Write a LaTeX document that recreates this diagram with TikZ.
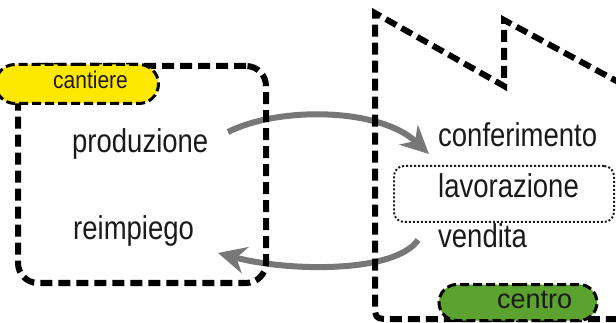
\documentclass[tikz,border=0pt]{standalone}
\usepackage{fontspec}
\setmainfont{Liberation Sans}
\usetikzlibrary{arrows.meta,shapes.misc}
\definecolor{arrowgray}{HTML}{777777}
\definecolor{pillyellow}{HTML}{FFE800}
\definecolor{pillgreen}{HTML}{5BA22E}
\definecolor{txt}{HTML}{1A1A1A}
\begin{document}
\begin{tikzpicture}[x=1pt,y=-1pt,
  outline/.style={draw=black, line width=6pt, dash pattern=on 12pt off 6pt},
  pill/.style={rounded rectangle, draw=black, line width=3pt, dash pattern=on 9pt off 4pt, inner sep=0pt},
  lbl/.style={anchor=base west, text=txt, inner sep=0pt, font=\fontsize{27.5}{30}\selectfont},
  small/.style={anchor=base west, text=txt, inner sep=0pt},
  flow/.style={draw=arrowgray, line width=6pt, -{Stealth[length=28pt,width=27pt,inset=9pt]}}]
\useasboundingbox (0,0) rectangle (616,323);
% arrows (under the outlines)
\coordinate (a1s) at (228,132);
\coordinate (a1e) at (429,154);
\coordinate (a2s) at (418,240);
\coordinate (a2e) at (218,253);
\draw[flow] (a1s) .. controls (280,106) and (380,108) .. (a1e);
\draw[flow] (a2s) .. controls (395,273) and (290,272) .. (a2e);
% factory outline
\draw[outline] (622,84) -- (504,20) -- (504,86) -- (375,13) -- (375,302) .. controls (375,319) .. (392,319) -- (622,319);
% building site box
\node[outline, rounded corners=20pt, minimum width=248pt, minimum height=217pt, inner sep=0pt, anchor=north west] (site) at (15,63) {};
% processing box
\node[draw=txt, line width=2pt, dash pattern=on 2pt off 2pt, rounded corners=10pt, minimum width=220pt, minimum height=56pt, inner sep=0pt, anchor=north west] (work) at (393,165) {};
% pills
\node[pill, fill=pillyellow, minimum width=163pt, minimum height=39pt, anchor=north west] (cantierepill) at (15,63) {};
\node[small, font=\fontsize{21}{24}\selectfont] (cantiere) at (53,89) {\scalebox{1}[1.15]{cantiere}};
\node[pill, fill=pillgreen, minimum width=158pt, minimum height=36pt, anchor=north west] (centropill) at (457,283) {};
\node[small, font=\fontsize{27}{30}\selectfont] (centro) at (497,308) {centro};
% labels
\node[lbl] (prod) at (72,153) {\scalebox{1}[1.2]{produzione}};
\node[lbl] (reimp) at (73,240) {\scalebox{1}[1.2]{reimpiego}};
\node[lbl] (conf) at (438,147) {\scalebox{1}[1.2]{conferimento}};
\node[lbl] (lav) at (438,198) {\scalebox{1}[1.2]{lavorazione}};
\node[lbl] (vend) at (438,248) {\scalebox{1}[1.2]{vendita}};
\end{tikzpicture}
\end{document}
